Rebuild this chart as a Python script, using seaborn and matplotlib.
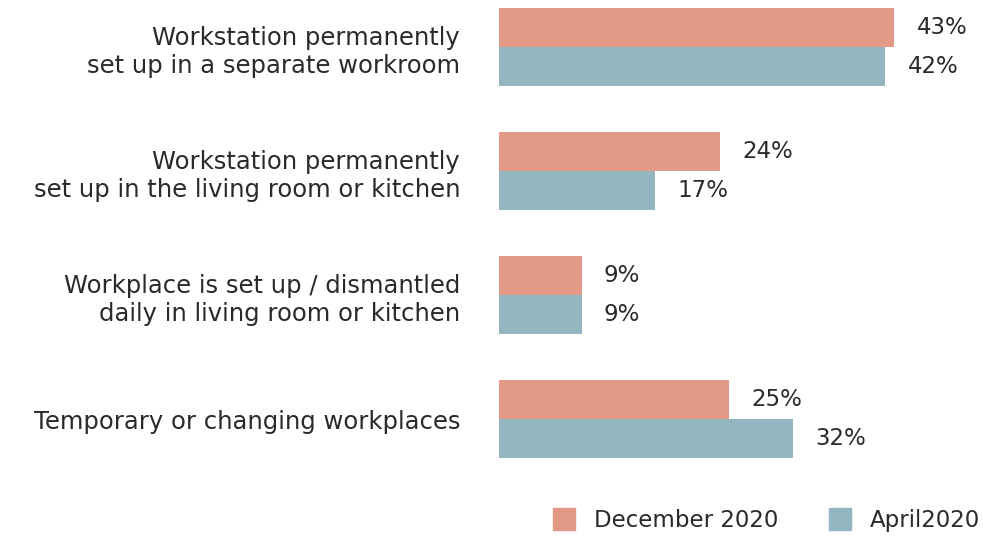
import numpy as np
import pandas as pd
import seaborn as sns
from matplotlib import pyplot as plt

categories = ["Workstation permanently\nset up in a separate workroom",
              "Workstation permanently\nset up in the living room or kitchen",
              "Workplace is set up / dismantled\ndaily in living room or kitchen",
              "Temporary or changing workplaces"]
dec_2020 = [43, 24, 9, 25]
apr_2020 = [42, 17, 9, 32]
series = ["December 2020", "April2020"]
colors = ["#E29A86", "#93B6C1"]

df = pd.DataFrame({"Place": categories * 2,
                   "Share": dec_2020 + apr_2020,
                   "Period": [series[0]] * 4 + [series[1]] * 4})

sns.set_style("white")
plt.rcParams['font.family'] = ['DejaVu Sans']

fig = plt.figure(figsize=(9.83, 5.44), dpi=100)
ax = fig.add_axes([0.5076, 0.1176, 0.421, 0.882])
sns.barplot(data=df, x="Share", y="Place", hue="Period", orient="h",
            palette=colors, saturation=1, width=0.63, gap=0, linewidth=0,
            ax=ax, legend=False)

for cont in ax.containers:
    ax.bar_label(cont, labels=[f"{v:.0f}%" for v in cont.datavalues],
                 padding=16, fontsize=16.5, color="#2a2a2a")

ax.set_xlim(0, 45)
ax.set_ylim(3.49, -0.379)
ax.set_xlabel("")
ax.set_ylabel("")
ax.set_xticks([])
ax.tick_params(axis="y", length=0, pad=28, labelsize=17.5, labelcolor="#2a2a2a")
for lab in ax.get_yticklabels():
    lab.set_horizontalalignment("right")
    lab.set_multialignment("right")
    lab.set_linespacing(1.25)
    lab.set_verticalalignment("center_baseline")
sns.despine(ax=ax, left=True, bottom=True)

handles = [plt.Rectangle((0, 0), 1, 1, color=c) for c in colors]
fig.legend(handles, series, loc="lower right", bbox_to_anchor=(1.018, -0.015),
           ncol=2, frameon=False, fontsize=16.5, handlelength=1.0, handleheight=1.1,
           handletextpad=0.8, columnspacing=2.2, labelcolor="#2a2a2a")

plt.savefig("out.png", dpi=100)
